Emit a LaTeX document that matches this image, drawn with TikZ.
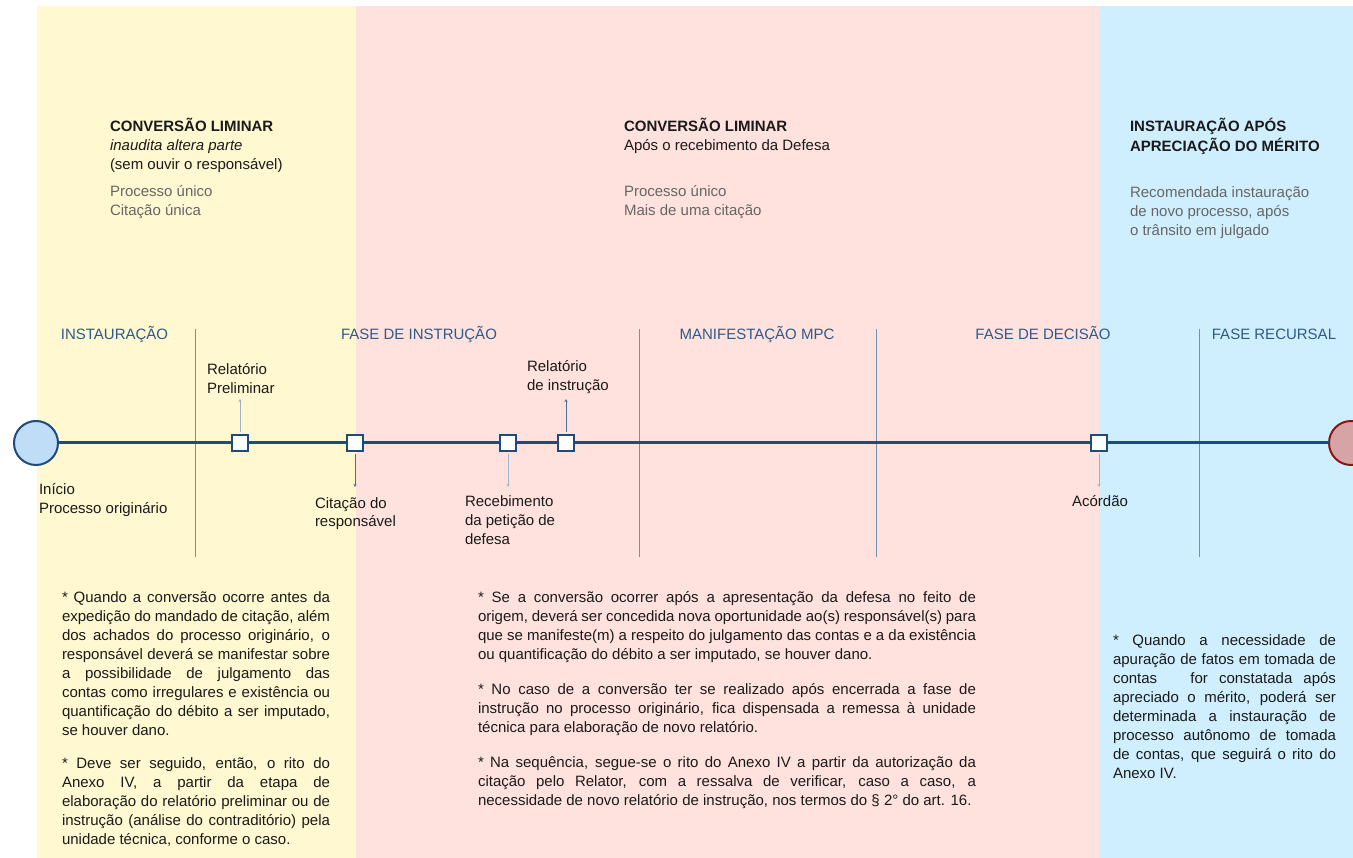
\documentclass[tikz,border=0pt]{standalone}
\usepackage{fontspec}
\setmainfont{Liberation Sans}
\usetikzlibrary{arrows.meta}
\definecolor{bgY}{HTML}{FFF8D1}
\definecolor{bgP}{HTML}{FFE2DE}
\definecolor{bgB}{HTML}{D0EFFE}
\definecolor{tl}{HTML}{1D4B7A}
\definecolor{phase}{HTML}{2E5A88}
\definecolor{vl}{HTML}{7590AE}
\definecolor{txt}{HTML}{1A1A1A}
\definecolor{gtxt}{HTML}{666666}
\definecolor{arrL}{HTML}{9FB3C8}
\definecolor{arrD}{HTML}{4C6F96}
\definecolor{startfill}{HTML}{BFDDF7}
\definecolor{endfill}{HTML}{D6A4A4}
\definecolor{enddraw}{HTML}{8B1414}
\newcommand\JA[1]{\makebox[268pt][s]{#1}}
\newcommand\JB[1]{\makebox[498pt][s]{#1}}
\newcommand\JC[1]{\makebox[223pt][s]{#1}}
\begin{document}
\begin{tikzpicture}[x=1pt,y=-1pt,
  every node/.style={inner sep=0pt, outer sep=0pt, font=\fontsize{15}{19}\selectfont, text=txt},
  phaselab/.style={text=phase, anchor=base},
  evlab/.style={align=left, anchor=north west},
  sq/.style={draw=tl, line width=2.5pt, fill=white, minimum size=16pt},
  vline/.style={draw=vl, line width=0.9pt},
  arr/.style={-{Stealth[length=3pt,width=3pt]}, line width=0.8pt, shorten <=3pt},
  hdr/.style={align=left, anchor=north west},
  body/.style={align=left, anchor=north west}
]
\useasboundingbox (0,0) rectangle (1353,858);
% backgrounds
\fill[bgY] (37,6) rectangle (355.5,858);
\fill[bgP] (355.5,6) rectangle (1099,858);
\fill[bgB] (1099,6) rectangle (1353,858);

% headers
\node[hdr] (h1) at (110,117.7) {\strut\textbf{CONVERSÃO LIMINAR}\\ \textit{inaudita altera parte}\\ (sem ouvir o responsável)\\[8pt] \textcolor{gtxt}{Processo único}\\ \textcolor{gtxt}{Citação única}};
\node[hdr] (h2) at (624,117.7) {\strut\textbf{CONVERSÃO LIMINAR}\\ Após o recebimento da Defesa\\ \strut\\[8pt] \textcolor{gtxt}{Processo único}\\ \textcolor{gtxt}{Mais de uma citação}};
\node[hdr] (h3) at (1130,117.7) {\strut\textbf{INSTAURAÇÃO APÓS}\\ \textbf{APRECIAÇÃO DO MÉRITO}\\ \strut\\[8pt] \textcolor{gtxt}{Recomendada instauração}\\ \textcolor{gtxt}{de novo processo, após}\\ \textcolor{gtxt}{o trânsito em julgado}};

% phase separators
\draw[vline] (195,329) -- (195,557);
\draw[vline] (639,329) -- (639,557);
\draw[vline] (876,329) -- (876,557);
\draw[vline] (1199,329) -- (1199,557);

% phase labels
\node[phaselab] (p1) at (114.5,340) {INSTAURAÇÃO};
\node[phaselab] (p2) at (419,340) {FASE DE INSTRUÇÃO};
\node[phaselab] (p3) at (757,340) {MANIFESTAÇÃO MPC};
\node[phaselab] (p4) at (1043,340) {FASE DE DECISÃO};
\node[phaselab] (p5) at (1274,340) {FASE RECURSAL};

% timeline
\node[circle, draw=tl, line width=2pt, fill=startfill, minimum size=44pt] (start) at (36,443) {};
\node[circle, draw=enddraw, line width=2pt, fill=endfill, minimum size=44pt] (end) at (1351,443) {};
\node[sq] (s1) at (240,443) {};
\node[sq] (s2) at (355,443) {};
\node[sq] (s3) at (508,443) {};
\node[sq] (s4) at (566,443) {};
\node[sq] (s5) at (1099,443) {};
\draw[tl, line width=3pt] (start) -- (s1) -- (s2) -- (s3) -- (s4) -- (s5) -- (end);

% event labels
\node[evlab] (l1) at (207,361.7) {\strut Relatório\\ Preliminar};
\node[evlab] (l2) at (315,494.7) {\strut Citação do\\ responsável};
\node[evlab] (l3) at (465,492.7) {\strut Recebimento\\ da petição de\\ defesa};
\node[evlab] (l4) at (527,358.7) {\strut Relatório\\ de instrução};
\node[anchor=base] (l5) at (1100,507) {Acórdão};
\node[evlab] (l0) at (39,481.7) {\strut Início\\ Processo originário};

\coordinate (e1) at (240,399);
\coordinate (e2) at (355,487);
\coordinate (e3) at (508,487);
\coordinate (e4) at (566,399);
\coordinate (e5) at (1099,487);
\draw[arr, arrL] (s1.north) -- (e1);
\draw[arr, arrD] (s2.south) -- (e2);
\draw[arr, arrL] (s3.south) -- (e3);
\draw[arr, arrD] (s4.north) -- (e4);
\draw[arr, arrL] (s5.south) -- (e5);

% body texts
\node[body] (b1) at (62,588.7) {\strut
\JA{* Quando a conversão ocorre antes da}\\
\JA{expedição do mandado de citação, além}\\
\JA{dos achados do processo originário, o}\\
\JA{responsável deverá se manifestar sobre}\\
\JA{a possibilidade de julgamento das}\\
\JA{contas como irregulares e existência ou}\\
\JA{quantificação do débito a ser imputado,}\\
se houver dano.\\[14pt]
\JA{* Deve ser seguido, então, o rito do}\\
\JA{Anexo IV, a partir da etapa de}\\
\JA{elaboração do relatório preliminar ou de}\\
\JA{instrução (análise do contraditório) pela}\\
unidade técnica, conforme o caso.};

\node[body] (b2) at (478,588.7) {\strut
\JB{* Se a conversão ocorrer após a apresentação da defesa no feito de}\\
\JB{origem, deverá ser concedida nova oportunidade ao(s) responsável(s) para}\\
\JB{que se manifeste(m) a respeito do julgamento das contas e a da existência}\\
ou quantificação do débito a ser imputado, se houver dano.\\[16pt]
\JB{* No caso de a conversão ter se realizado após encerrada a fase de}\\
\JB{instrução no processo originário, fica dispensada a remessa à unidade}\\
técnica para elaboração de novo relatório.\\[16pt]
\JB{* Na sequência, segue-se o rito do Anexo IV a partir da autorização da}\\
\JB{citação pelo Relator, com a ressalva de verificar, caso a caso, a}\\
necessidade de novo relatório de instrução, nos termos do § 2° do art. 16.};

\node[body] (b3) at (1113,631.7) {\strut
\JC{* Quando a necessidade de}\\
\JC{apuração de fatos em tomada de}\\
\JC{contas \ \ for constatada após}\\
\JC{apreciado o mérito, poderá ser}\\
\JC{determinada a instauração de}\\
\JC{processo autônomo de tomada}\\
\JC{de contas, que seguirá o rito do}\\
Anexo IV.};
\end{tikzpicture}
\end{document}
